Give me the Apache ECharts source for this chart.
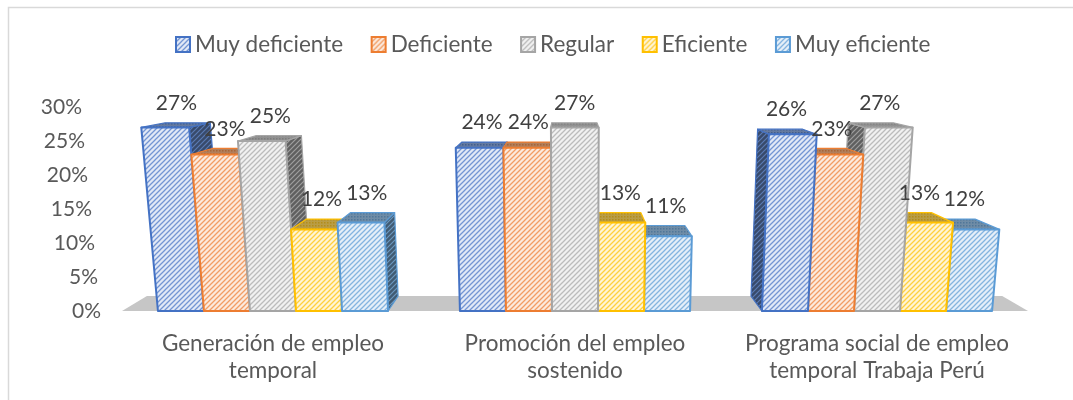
<!DOCTYPE html>
<html>
<head>
<meta charset="utf-8">
<script src="https://cdn.jsdelivr.net/npm/echarts@6/dist/echarts.min.js"></script>
<style>
  html, body { margin: 0; padding: 0; background: #fff; }
  #chart { width: 1073px; height: 400px; }
</style>
</head>
<body>
<div id="chart"></div>
<script>
// data (percent)
const categories = [
  'Generación de empleo\ntemporal',
  'Promoción del empleo\nsostenido',
  'Programa social de empleo\ntemporal Trabaja Perú'
];
const seriesNames = ['Muy deficiente', 'Deficiente', 'Regular', 'Eficiente', 'Muy eficiente'];
const muyDeficiente = [27, 24, 26];
const deficiente = [23, 24, 23];
const regular = [25, 27, 27];
const eficiente = [12, 13, 13];
const muyEficiente = [13, 11, 12];
const yTicks = [0, 5, 10, 15, 20, 25, 30];

const seriesValues = [muyDeficiente, deficiente, regular, eficiente, muyEficiente];
const colors = ['#4472c4', '#ed7d31', '#a5a5a5', '#ffc000', '#5b9bd5'];

const FONT = 'Lato, "Open Sans", sans-serif';
const VP = [567, 45];       // depth vanishing point
const DEPTH = 0.056;        // how deep the boxes go
const VV_Y = 4948;          // vertical lines converge far below
const VV_X = 579;
const BAR_RATIO = 0.762;    // share of the band used by a group

function hex(c) {
  return [1, 3, 5].map(i => parseInt(c.substr(i, 2), 16));
}
function mix(a, b, t) {
  const x = hex(a), y = hex(b);
  return 'rgb(' + x.map((v, i) => Math.round(v + (y[i] - v) * t)).join(',') + ')';
}

function stripes(bg, fg, size, lw) {
  const c = document.createElement('canvas');
  c.width = c.height = size;
  const g = c.getContext('2d');
  g.fillStyle = bg;
  g.fillRect(0, 0, size, size);
  g.strokeStyle = fg;
  g.lineWidth = lw;
  g.beginPath();
  g.moveTo(-1, size + 1); g.lineTo(size + 1, -1);
  g.moveTo(-1, 1); g.lineTo(1, -1);
  g.moveTo(size - 1, size + 1); g.lineTo(size + 1, size - 1);
  g.stroke();
  return { image: c, repeat: 'repeat' };
}
function dots(bg, fg) {
  const c = document.createElement('canvas');
  c.width = c.height = 3;
  const g = c.getContext('2d');
  g.fillStyle = bg;
  g.fillRect(0, 0, 3, 3);
  g.fillStyle = fg;
  g.fillRect(0, 0, 1.5, 1.5);
  return { image: c, repeat: 'repeat' };
}

const frontFill = colors.map(c => stripes(mix(c, '#ffffff', 0.84), mix(c, '#ffffff', 0.25), 5, 1.3));
const sideFill = colors.map(c => stripes(mix(c, '#303030', 0.6), mix(c, '#909090', 0.3), 5, 1.2));
const topFill = colors.map(c => dots(mix(c, '#808080', 0.55), mix(c, '#404040', 0.4)));

function warp(x, y, base) {
  const f = (VV_Y - y) / (VV_Y - base);
  return [VV_X + (x - VV_X) * f, y];
}
function back(p) {
  return [p[0] + DEPTH * (VP[0] - p[0]), p[1] + DEPTH * (VP[1] - p[1])];
}

function renderBar(s) {
  return function (params, api) {
    const i = api.value(0), v = api.value(1);
    const base = api.coord([i, 0]);
    const top = api.coord([i, v]);
    const band = api.size([1, 0])[0];
    const n = seriesNames.length;
    const w = band * BAR_RATIO / n;
    const x0 = base[0] - w * n / 2 + s * w, x1 = x0 + w;
    const b = base[1];
    const FLb = warp(x0, b, b), FRb = warp(x1, b, b);
    const FLt = warp(x0, top[1], b), FRt = warp(x1, top[1], b);
    const cx = (x0 + x1) / 2;
    const rightSide = cx < VP[0];
    const side = rightSide
      ? [FRb, FRt, back(FRt), back(FRb)]
      : [FLb, FLt, back(FLt), back(FLb)];
    const topFace = [FLt, FRt, back(FRt), back(FLt)];
    const z = Math.round((2000 - Math.abs(cx - VP[0])) * 4);
    const c = colors[s];
    const tx = (FLt[0] + FRt[0] + back(FRt)[0] + back(FLt)[0]) / 4;
    const ty = Math.min(back(FLt)[1], back(FRt)[1]) - 9;
    return {
      type: 'group',
      children: [
        { type: 'polygon', z2: z, shape: { points: side },
          style: { fill: sideFill[s], stroke: c, lineWidth: 1.2, lineJoin: 'round' } },
        { type: 'polygon', z2: z + 1, shape: { points: topFace },
          style: { fill: topFill[s], stroke: c, lineWidth: 1.2, lineJoin: 'round' } },
        { type: 'polygon', z2: z + 2, shape: { points: [FLb, FRb, FRt, FLt] },
          style: { fill: frontFill[s], stroke: c, lineWidth: 2, lineJoin: 'round' } },
        { type: 'text', z2: 20000, x: tx, y: ty,
          style: { text: v + '%', fill: '#404040', font: '21px ' + FONT,
                   align: 'center', verticalAlign: 'bottom' } }
      ]
    };
  };
}

function renderFloor(params, api) {
  const cs = params.coordSys;
  const b = cs.y + cs.height;
  const L = warp(cs.x, b, b), R = warp(cs.x + cs.width, b, b);
  return {
    type: 'polygon', z2: -10,
    shape: { points: [L, R, back(R), back(L)] },
    style: { fill: '#c6c6c6' }
  };
}

const yRich = {};
yTicks.forEach(t => {
  yRich['t' + t] = { fontSize: 21, fontFamily: FONT, color: '#595959',
                     padding: [0, Math.round(t * 0.63), 0, 0] };
});

const series = [{
  type: 'custom',
  name: 'floor',
  coordinateSystem: 'cartesian2d',
  data: [[0, 0]],
  renderItem: renderFloor,
  silent: true,
  clip: false
}];
seriesNames.forEach((name, s) => {
  series.push({
    type: 'custom',
    name: name,
    coordinateSystem: 'cartesian2d',
    encode: { x: 0, y: 1 },
    data: seriesValues[s].map((v, i) => [i, v]),
    itemStyle: { color: frontFill[s], borderColor: colors[s], borderWidth: 1 },
    renderItem: renderBar(s),
    clip: false
  });
});

const chart = echarts.init(document.getElementById('chart'), null, { renderer: 'canvas' });
chart.setOption({
  animation: false,
  backgroundColor: '#ffffff',
  graphic: [{
    type: 'rect', silent: true,
    shape: { x: 8.5, y: 7.5, width: 1200, height: 600 },
    style: { fill: 'none', stroke: '#d9d9d9', lineWidth: 1.5 }
  }],
  legend: {
    data: seriesNames,
    left: 170,
    top: 28,
    icon: 'rect',
    itemWidth: 14,
    itemHeight: 15,
    itemGap: 27.5,
    textStyle: { fontSize: 22.5, fontFamily: FONT, color: '#595959' }
  },
  grid: { left: 122, right: 45, top: 107, bottom: 89 },
  xAxis: {
    type: 'category',
    data: categories,
    axisLine: { show: false },
    axisTick: { show: false },
    axisLabel: {
      interval: 0,
      margin: 19,
      fontSize: 22.5,
      lineHeight: 27,
      fontFamily: FONT,
      color: '#595959'
    }
  },
  yAxis: {
    type: 'value',
    min: 0,
    max: 30,
    interval: 5,
    axisLine: { show: false },
    axisTick: { show: false },
    splitLine: { show: false },
    axisLabel: {
      margin: 21,
      formatter: v => '{t' + v + '|' + v + '%}',
      rich: yRich
    }
  },
  series: series
});
</script>
</body>
</html>
